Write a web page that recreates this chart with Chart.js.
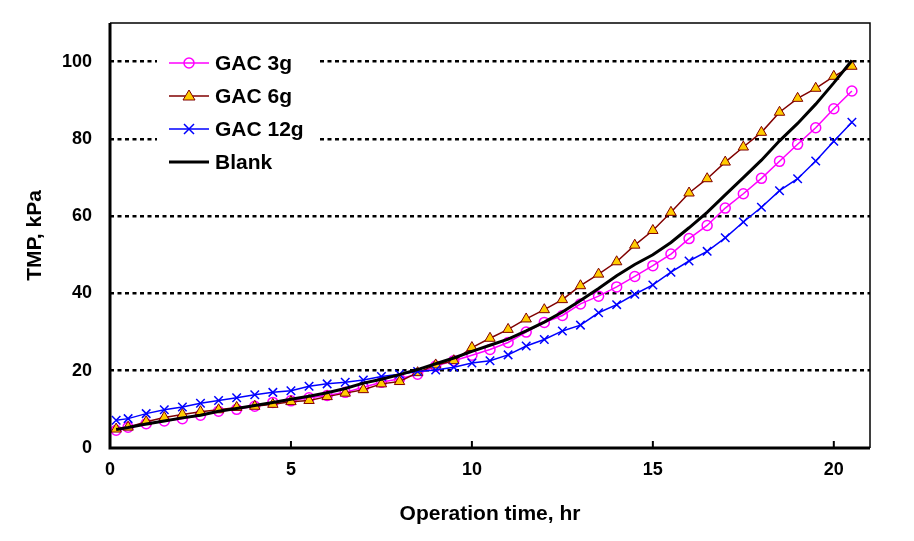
<!DOCTYPE html>
<html>
<head>
<meta charset="utf-8">
<script src="https://cdn.jsdelivr.net/npm/chart.js@4/dist/chart.umd.min.js"></script>
<style>
  html, body { margin: 0; padding: 0; background: #fff; }
  #wrap { width: 914px; height: 541px; }
</style>
</head>
<body>
<div id="wrap"><canvas id="grafico" width="914" height="541"></canvas></div>
<script>
// =====================
// DATOS
// =====================
const horas  = [0.17, 0.5, 1, 1.5, 2, 2.5, 3, 3.5, 4, 4.5, 5, 5.5, 6, 6.5, 7, 7.5, 8, 8.5, 9, 9.5,
                10, 10.5, 11, 11.5, 12, 12.5, 13, 13.5, 14, 14.5, 15, 15.5, 16, 16.5, 17, 17.5, 18, 18.5, 19, 19.5, 20, 20.5];
const gac3g  = [4.6, 5.4, 6.3, 7.0, 7.6, 8.5, 9.5, 10.0, 10.8, 11.8, 12.2, 13.0, 13.6, 14.4, 15.7, 17.0, 17.9, 19.1, 21.2, 22.6,
                24.0, 25.5, 27.3, 30.0, 32.5, 34.3, 37.3, 39.3, 41.7, 44.4, 47.2, 50.2, 54.2, 57.6, 62.1, 65.8, 69.8, 74.2, 78.6, 82.9, 87.8, 92.4];
const gac6g  = [4.9, 5.4, 6.8, 7.9, 8.7, 9.4, 9.9, 10.5, 10.8, 11.3, 12.0, 12.3, 13.3, 14.2, 15.1, 16.6, 17.2, 19.5, 21.5, 22.6,
                26.0, 28.4, 30.7, 33.4, 35.8, 38.4, 42.0, 45.0, 48.2, 52.5, 56.3, 61.0, 66.0, 69.7, 74.0, 77.9, 81.7, 86.9, 90.5, 93.1, 96.2, 98.8];
const gac12g = [7.2, 7.6, 8.9, 9.9, 10.6, 11.6, 12.3, 13.0, 13.8, 14.4, 14.8, 16.0, 16.6, 17.0, 17.6, 18.5, 19.1, 19.8, 20.2, 20.9,
                22.0, 22.6, 24.1, 26.4, 28.1, 30.3, 31.8, 35.0, 37.1, 39.8, 42.2, 45.5, 48.4, 50.9, 54.4, 58.5, 62.3, 66.6, 69.7, 74.3, 79.4, 84.3];
const blanco = [4.8, 5.3, 6.2, 7.0, 7.8, 8.5, 9.5, 10.2, 11.0, 11.8, 12.6, 13.4, 14.3, 15.4, 16.8, 17.8, 19.0, 20.3, 21.8, 23.3,
                25.0, 26.6, 28.2, 30.3, 32.6, 35.2, 38.2, 41.3, 44.6, 47.5, 50.0, 53.2, 57.0, 61.0, 65.5, 70.0, 74.5, 79.5, 84.0, 89.0, 94.5, 100.3];

const yTicks = [0, 20, 40, 60, 80, 100];
const xTicks = [0, 5, 10, 15, 20];

const FONT = '"Liberation Sans", Arial, sans-serif';

function puntos(valores) {
  return horas.map((h, i) => ({ x: h, y: valores[i] }));
}

// =====================
// PLUGINS
// =====================
// marco del área y ticks hacia adentro
const marco = {
  id: "marco",
  afterDraw(chart) {
    const { ctx, chartArea: a, scales } = chart;
    ctx.save();
    ctx.strokeStyle = "#000";
    ctx.lineWidth = 1.5;
    ctx.beginPath();
    ctx.moveTo(a.left, a.top);
    ctx.lineTo(a.right, a.top);
    ctx.lineTo(a.right, a.bottom);
    ctx.stroke();
    ctx.lineWidth = 3;
    ctx.beginPath();
    ctx.moveTo(a.left, a.top);
    ctx.lineTo(a.left, a.bottom);
    ctx.lineTo(a.right, a.bottom);
    ctx.stroke();
    ctx.lineWidth = 2;
    xTicks.slice(1).forEach(v => {
      const px = scales.x.getPixelForValue(v);
      ctx.beginPath();
      ctx.moveTo(px, a.bottom);
      ctx.lineTo(px, a.bottom - 7);
      ctx.stroke();
    });
    ctx.restore();
  }
};

function dibujarMarcador(ctx, tipo, x, y) {
  ctx.beginPath();
  if (tipo === "circle") {
    ctx.arc(x, y, 5, 0, Math.PI * 2);
    ctx.stroke();
  } else if (tipo === "triangle") {
    ctx.moveTo(x, y - 6);
    ctx.lineTo(x + 6, y + 4);
    ctx.lineTo(x - 6, y + 4);
    ctx.closePath();
    ctx.fill();
    ctx.stroke();
  } else if (tipo === "crossRot") {
    ctx.moveTo(x - 5, y - 5); ctx.lineTo(x + 5, y + 5);
    ctx.moveTo(x + 5, y - 5); ctx.lineTo(x - 5, y + 5);
    ctx.stroke();
  }
}

// leyenda dentro del gráfico
const leyenda = {
  id: "leyenda",
  afterDraw(chart) {
    const { ctx } = chart;
    ctx.save();
    ctx.fillStyle = "#fff";
    ctx.fillRect(157, 38, 163, 142);
    chart.data.datasets.forEach((ds, i) => {
      const y = 63 + i * 33;
      ctx.strokeStyle = ds.borderColor;
      ctx.lineWidth = ds.borderWidth;
      ctx.beginPath();
      ctx.moveTo(169, y);
      ctx.lineTo(209, y);
      ctx.stroke();
      if (ds.pointRadius > 0) {
        ctx.strokeStyle = ds.pointBorderColor;
        ctx.fillStyle = ds.pointBackgroundColor;
        ctx.lineWidth = ds.pointBorderWidth;
        dibujarMarcador(ctx, ds.pointStyle, 189, y);
      }
      ctx.fillStyle = "#000";
      ctx.font = `bold 21px ${FONT}`;
      ctx.textBaseline = "middle";
      ctx.fillText(ds.label, 215, y + 1);
    });
    ctx.restore();
  }
};

// =====================
// GRÁFICO
// =====================
new Chart(document.getElementById("grafico"), {
  type: "line",
  data: {
    datasets: [
      {
        label: "GAC 3g",
        data: puntos(gac3g),
        borderColor: "#FF00FF",
        borderWidth: 1.5,
        pointStyle: "circle",
        pointRadius: 5,
        pointBorderColor: "#FF00FF",
        pointBackgroundColor: "rgba(0,0,0,0)",
        pointBorderWidth: 1.5,
        order: 3
      },
      {
        label: "GAC 6g",
        data: puntos(gac6g),
        borderColor: "#800000",
        borderWidth: 1.5,
        pointStyle: "triangle",
        pointRadius: 6,
        pointBorderColor: "#800000",
        pointBackgroundColor: "#FFCC00",
        pointBorderWidth: 1,
        order: 2
      },
      {
        label: "GAC 12g",
        data: puntos(gac12g),
        borderColor: "#0000FF",
        borderWidth: 1.5,
        pointStyle: "crossRot",
        pointRadius: 6,
        pointBorderColor: "#0000FF",
        pointBackgroundColor: "#0000FF",
        pointBorderWidth: 1.5,
        order: 1
      },
      {
        label: "Blank",
        data: puntos(blanco),
        borderColor: "#000000",
        borderWidth: 3,
        pointRadius: 0,
        order: 0
      }
    ]
  },
  options: {
    responsive: false,
    animation: false,
    layout: { padding: { left: 0, top: 23, right: 44, bottom: 0 } },
    plugins: {
      legend: { display: false },
      tooltip: { enabled: false }
    },
    scales: {
      x: {
        type: "linear",
        min: 0,
        max: 21,
        afterFit: s => { s.height = 93; },
        afterBuildTicks: s => { s.ticks = xTicks.map(v => ({ value: v })); },
        ticks: {
          padding: 3,
          color: "#000",
          font: { family: FONT, size: 18, weight: "bold" }
        },
        grid: { display: false },
        border: { display: false },
        title: {
          display: true,
          text: "Operation time, hr",
          color: "#000",
          font: { family: FONT, size: 21, weight: "bold" },
          padding: { top: 0, bottom: 14 }
        }
      },
      y: {
        min: 0,
        max: 110,
        afterFit: s => { s.width = 110; s.paddingTop = 0; s.paddingBottom = 0; },
        afterBuildTicks: s => { s.ticks = yTicks.map(v => ({ value: v })); },
        ticks: {
          padding: 18,
          color: "#000",
          font: { family: FONT, size: 18, weight: "bold" }
        },
        grid: {
          drawTicks: false,
          color: c => (c.tick && c.tick.value === 0) ? "rgba(0,0,0,0)" : "#000",
          lineWidth: 2.5
        },
        border: { display: false, dash: [4, 3.5] },
        title: {
          display: true,
          text: "TMP, kPa",
          color: "#000",
          font: { family: FONT, size: 21, weight: "bold" },
          padding: { top: 23, bottom: 0 }
        }
      }
    }
  },
  plugins: [marco, leyenda]
});
</script>
</body>
</html>
